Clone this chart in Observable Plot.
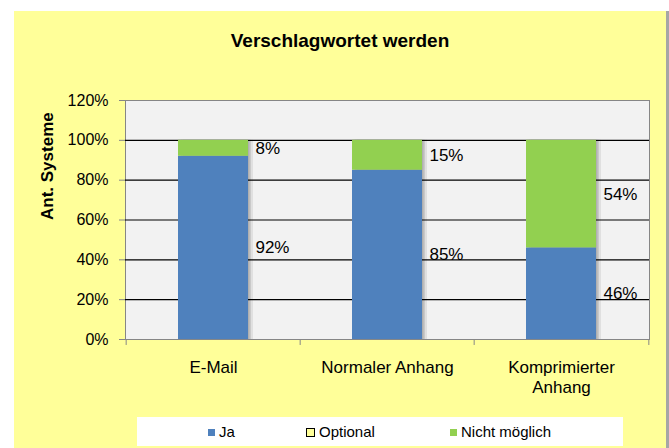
<!DOCTYPE html>
<html>
<head>
<meta charset="utf-8">
<script src="https://cdn.jsdelivr.net/npm/d3@7"></script>
<script src="https://cdn.jsdelivr.net/npm/@observablehq/plot@0.6"></script>
<style>
  html, body { margin: 0; padding: 0; background: #fff; }
  body { font-family: "Liberation Sans", Arial, sans-serif; }
  #wrap { position: relative; width: 669px; height: 448px; overflow: hidden; background: #fff; }
  #bg { position: absolute; left: 14px; top: 11px; width: 652px; height: 437px; background: #FFFF99; border-right: 3px solid #A6A6A6; }
  #title { position: absolute; left: 0; top: 31px; width: 680px; text-align: center; font-size: 19px; line-height: 19px; font-weight: bold; color: #000; }
  #chart { position: absolute; left: 0; top: 0; }
  #legend { position: absolute; left: 137px; top: 417px; width: 486px; height: 29px; background: #fff; }
  .item { position: absolute; top: 0; height: 29px; line-height: 29px; font-size: 15px; color: #000; white-space: nowrap; }
  .sw { display: inline-block; width: 7px; height: 7px; margin-right: 4px; vertical-align: 1px; box-sizing: border-box; }
</style>
</head>
<body>
<div id="wrap">
  <div id="bg"></div>
  <div id="title"></div>
  <div id="chart"></div>
  <div id="legend"></div>
</div>
<script>
// ---- data ----
const titleText = "Verschlagwortet werden";
const yAxisTitle = "Ant. Systeme";
const categories = ["E-Mail", "Normaler Anhang", "Komprimierter Anhang"];
const categoryLabels = ["E-Mail", "Normaler Anhang", "Komprimierter\nAnhang"];
const seriesNames = ["Ja", "Optional", "Nicht möglich"];
const seriesColors = ["#4F81BD", "#FFFF99", "#92D050"];
const jaValues = [92, 85, 46];
const optionalValues = [0, 0, 0];
const nichtMoeglichValues = [8, 15, 54];
const yTicks = [0, 20, 40, 60, 80, 100, 120];
const gridValues = [20, 40, 60, 80, 100];

// ---- table ----
const seriesValues = [jaValues, optionalValues, nichtMoeglichValues];
const rows = [];
categories.forEach((c, i) => {
  seriesNames.forEach((s, j) => {
    rows.push({cat: c, series: s, value: seriesValues[j][i]});
  });
});

const W = 669, H = 448, mL = 125, mR = 20, mT = 100, mB = 109;
const step = (W - mL - mR) / categories.length;

document.getElementById("title").textContent = titleText;

const chart = Plot.plot({
  width: W,
  height: H,
  marginLeft: mL,
  marginRight: mR,
  marginTop: mT,
  marginBottom: mB,
  style: {background: "transparent", fontFamily: "'Liberation Sans', Arial, sans-serif", fontSize: "16px", color: "#000", overflow: "visible"},
  x: {domain: categories, paddingInner: 0.6, paddingOuter: 0.3, label: null},
  y: {domain: [0, 120], label: null},
  color: {domain: seriesNames, range: seriesColors},
  marks: [
    Plot.frame({fill: "#F2F2F2", stroke: "#868686"}),
    Plot.ruleY(gridValues, {stroke: "#000", strokeWidth: 1.2}),
    Plot.barY(rows, {x: "cat", y: "value", fill: "#000", fillOpacity: 0.07, dx: 5}),
    Plot.barY(rows, {x: "cat", y: "value", fill: "#000", fillOpacity: 0.1, dx: 3}),
    Plot.barY(rows, {x: "cat", y: "value", fill: "#000", fillOpacity: 0.12, dx: 1.5}),
    Plot.barY(rows, {x: "cat", y: "value", fill: "series"}),
    Plot.text(rows, Plot.stackY({
      x: "cat", y: "value", z: "series",
      text: d => d.value > 0 ? d.value + "%" : "",
      dx: step * 0.2 + 7, textAnchor: "start", fontSize: 17, fill: "#000"
    })),
    Plot.axisY({ticks: yTicks, tickFormat: d => d + "%", tickSize: 6, tickPadding: 11, fontSize: 16, stroke: "#868686", label: null}),
    Plot.axisX({tickSize: 0, tickPadding: 20, fontSize: 17, lineHeight: 1.15, tickFormat: d => categoryLabels[categories.indexOf(d)], label: null}),
    Plot.ruleX(categories, {x: d => d, y1: 0, y2: -3, dx: -step / 2, stroke: "#868686"}),
    Plot.ruleX([categories[categories.length - 1]], {x: d => d, y1: 0, y2: -3, dx: step / 2, stroke: "#868686"}),
    Plot.text([yAxisTitle], {frameAnchor: "left", dx: -78, rotate: -90, fontWeight: "bold", fontSize: 17, fill: "#000"})
  ]
});
document.getElementById("chart").appendChild(chart);

// legend
const legend = document.getElementById("legend");
const legendLeft = [71, 169, 313];
seriesNames.forEach((s, i) => {
  const it = document.createElement("div");
  it.className = "item";
  it.style.left = legendLeft[i] + "px";
  const sw = document.createElement("span");
  sw.className = "sw";
  sw.style.background = seriesColors[i];
  if (s === "Optional") { sw.style.border = "1.5px solid #000"; sw.style.width = "9px"; sw.style.height = "9px"; sw.style.verticalAlign = "0px"; }
  it.appendChild(sw);
  it.appendChild(document.createTextNode(s));
  legend.appendChild(it);
});
</script>
</body>
</html>
